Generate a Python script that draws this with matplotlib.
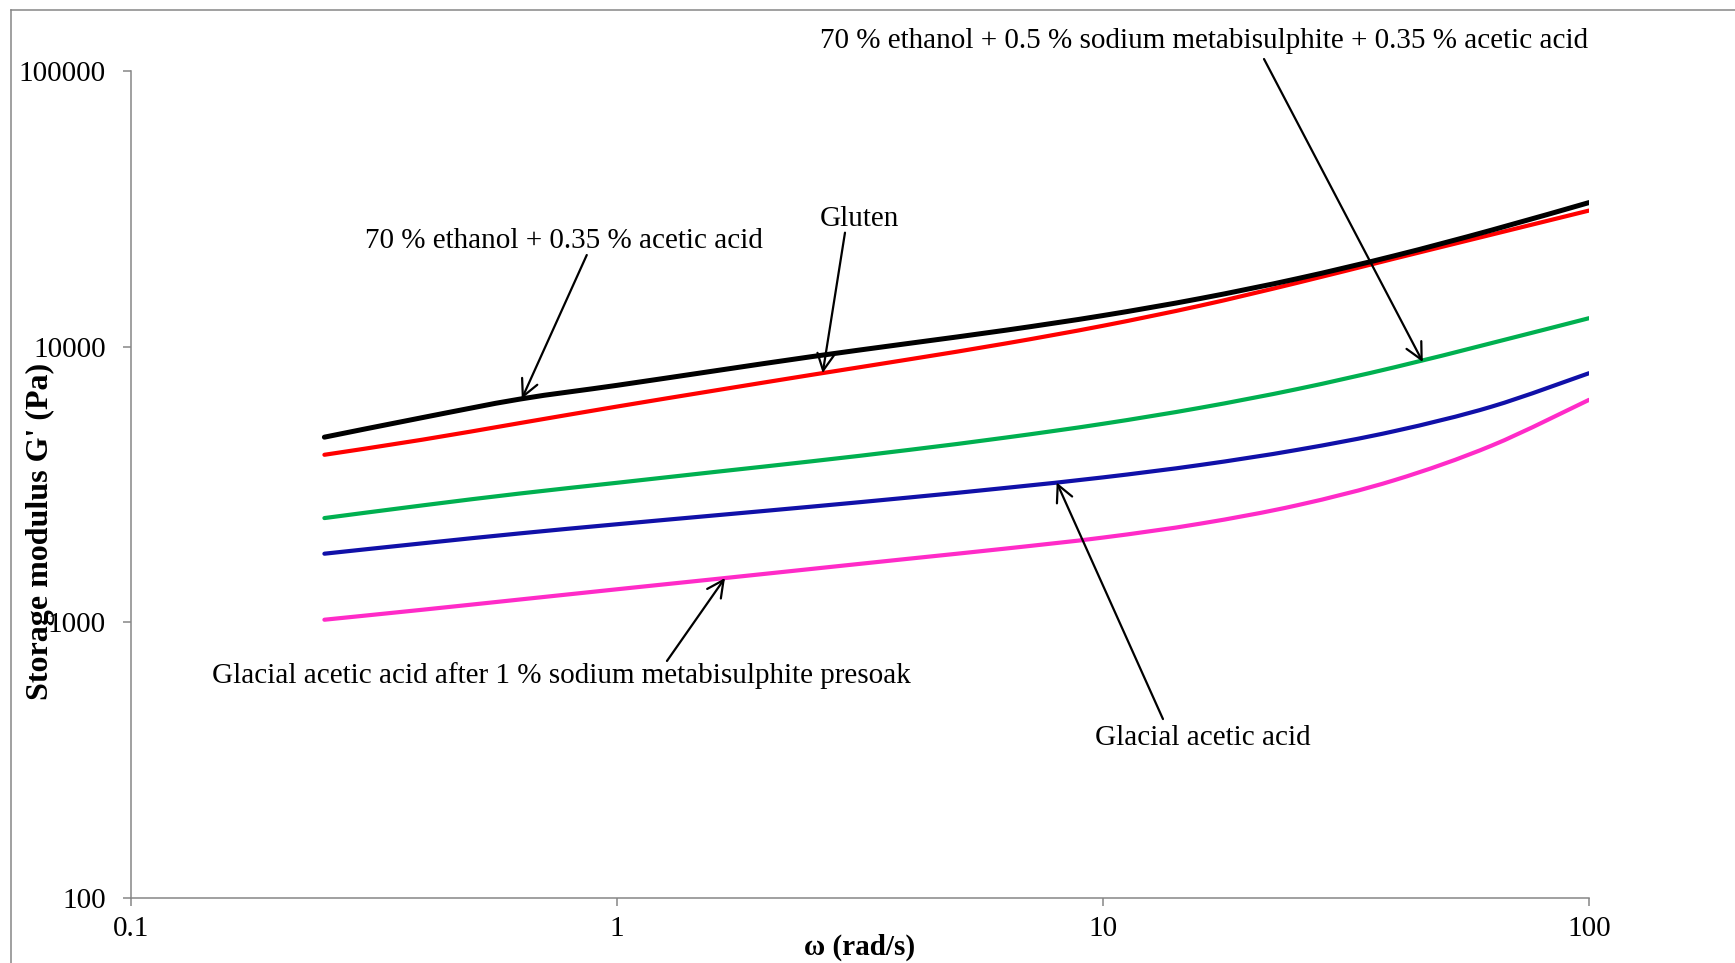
import matplotlib
matplotlib.use("Agg")
import numpy as np
import matplotlib.pyplot as plt
from matplotlib.lines import Line2D
from matplotlib.path import Path
from matplotlib.patches import PathPatch

plt.rcParams['font.family'] = ['Liberation Serif', 'DejaVu Serif']

# angular frequency (rad/s)
omega = [0.25, 0.398, 0.631, 1.0, 1.585, 2.512, 3.981, 6.31, 10.0, 15.85, 25.12, 39.81, 63.1, 100.0]

# storage modulus G' (Pa)
gluten = [4053, 4599, 5282, 6064, 6928, 7901, 8988, 10273, 11907, 14084, 17050, 20875, 25510, 31170]
eth_acetic = [4696, 5531, 6453, 7240, 8165, 9198, 10275, 11475, 12970, 14950, 17650, 21370, 26480, 33320]
eth_meta_acetic = [2389, 2656, 2933, 3208, 3510, 3838, 4220, 4680, 5251, 6002, 7019, 8420, 10309, 12685]
glacial = [1774, 1935, 2102, 2269, 2442, 2628, 2836, 3074, 3356, 3722, 4224, 4940, 6063, 8012]
glacial_presoak = [1022, 1111, 1210, 1318, 1434, 1562, 1701, 1852, 2030, 2280, 2660, 3280, 4379, 6413]

labels = [
    "70 % ethanol + 0.5 % sodium metabisulphite + 0.35 % acetic acid",
    "70 % ethanol + 0.35 % acetic acid",
    "Gluten",
    "Glacial acetic acid after 1 % sodium metabisulphite presoak",
    "Glacial acetic acid",
]
# points on the curves the arrows touch (omega, G')
arrow_tips = [(45.5, 8800), (0.637, 6470), (2.65, 8022), (1.668, 1448), (8.03, 3217)]
# text centre and arrow tail, axes fraction
text_pos = [(0.7359, 1.0365), (0.297, 0.7945), (0.4997, 0.8212), (0.2953, 0.2686), (0.7353, 0.1936)]
tail_pos = [(0.7771, 1.0145), (0.3126, 0.7775), (0.4897, 0.8045), (0.3676, 0.2866), (0.7078, 0.2164)]


def smooth_line(ax, x, y, **kw):
    # Excel-style smoothed line: cubic Bezier through the points, in log-log space
    lx, ly = np.log10(x), np.log10(y)
    n = len(lx)
    verts = [(lx[0], ly[0])]
    codes = [Path.MOVETO]
    for i in range(n - 1):
        a = max(i - 1, 0)
        b = min(i + 2, n - 1)
        c1 = (lx[i] + (lx[i + 1] - lx[a]) / 6, ly[i] + (ly[i + 1] - ly[a]) / 6)
        c2 = (lx[i + 1] - (lx[b] - lx[i]) / 6, ly[i + 1] - (ly[b] - ly[i]) / 6)
        verts += [c1, c2, (lx[i + 1], ly[i + 1])]
        codes += [Path.CURVE4] * 3
    verts = 10 ** np.array(verts)
    ax.add_patch(PathPatch(Path(verts, codes), fill=False, capstyle='round',
                           joinstyle='round', **kw))


W, H = 1735, 963
fig = plt.figure(figsize=(W / 100, H / 100), dpi=100)
ax = fig.add_axes([131 / W, 1 - 898 / H, 1458 / W, 827 / H])

ax.set_xscale('log')
ax.set_yscale('log')
ax.set_xlim(0.1, 100)
ax.set_ylim(100, 100000)

smooth_line(ax, omega, glacial_presoak, edgecolor='#FF2BC8', lw=3.0)
smooth_line(ax, omega, glacial, edgecolor='#1010A8', lw=3.0)
smooth_line(ax, omega, eth_meta_acetic, edgecolor='#00B050', lw=3.0)
smooth_line(ax, omega, gluten, edgecolor='#FF0000', lw=3.0)
smooth_line(ax, omega, eth_acetic, edgecolor='black', lw=3.6)

ax.set_xticks([0.1, 1, 10, 100], ['0.1', '1', '10', '100'])
ax.set_yticks([100, 1000, 10000, 100000], ['100', '1000', '10000', '100000'])
ax.minorticks_off()

grey = '#868686'
for side in ['top', 'right']:
    ax.spines[side].set_visible(False)
for side in ['left', 'bottom']:
    ax.spines[side].set_color(grey)
    ax.spines[side].set_linewidth(1.1)
ax.tick_params(axis='both', colors=grey, labelcolor='black', labelsize=21,
               length=6, width=1.1, direction='out')
ax.tick_params(axis='y', pad=12)
ax.tick_params(axis='x', pad=7)

for lab, tip, tp, tail in zip(labels, arrow_tips, text_pos, tail_pos):
    ax.text(tp[0], tp[1], lab, transform=ax.transAxes, ha='center', va='center',
            fontsize=21, clip_on=False)
    ax.annotate('', xy=tip, xycoords='data', xytext=tail, textcoords='axes fraction',
                arrowprops=dict(arrowstyle='->,head_length=0.4,head_width=0.2',
                                mutation_scale=30, lw=1.6, color='black',
                                shrinkA=0, shrinkB=0))

fig.text(860 / W, 1 - 947 / H, 'ω (rad/s)', ha='center', va='center',
         fontsize=21, fontweight='bold')
fig.text(40 / W, 1 - 531 / H, "Storage modulus G' (Pa)", ha='center', va='center',
         rotation=90, fontsize=23, fontweight='bold')

# chart-area frame, only top and left edges are inside the picture
fig.add_artist(Line2D([11 / W, 11 / W], [0, 1 - 10 / H], color=grey, lw=1.1))
fig.add_artist(Line2D([11 / W, 1], [1 - 10 / H, 1 - 10 / H], color=grey, lw=1.1))

fig.savefig('out.png', dpi=100, facecolor='white')
